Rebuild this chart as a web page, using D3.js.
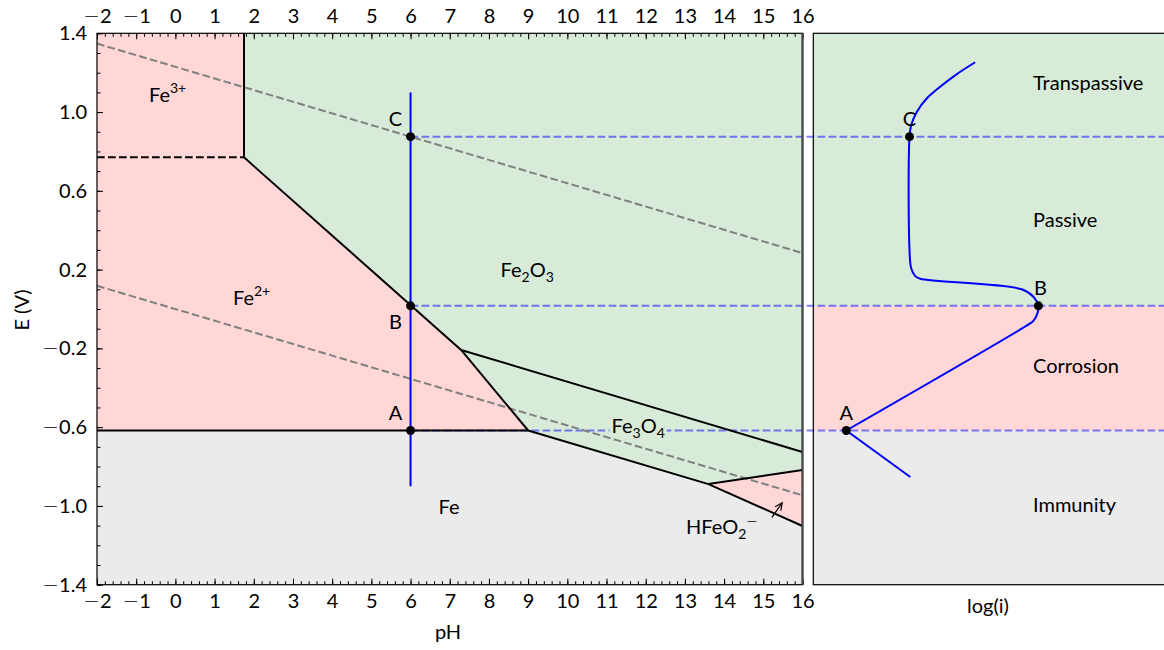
<!DOCTYPE html>
<html>
<head>
<meta charset="utf-8">
<script src="https://cdn.jsdelivr.net/npm/d3@7"></script>
<style>
  html, body { margin: 0; padding: 0; background: #fff; }
  svg text { font-family: Lato, "DejaVu Sans", sans-serif; fill: #000; }
  .minus { font-family: "DejaVu Sans", sans-serif; font-weight: 200; }
</style>
</head>
<body>
<svg id="chart" width="1164" height="650"></svg>
<script>
// ---- Data: iron Pourbaix diagram (25 °C, 1e-6 M) and polarisation curve ----
const phTicks = d3.range(-2, 17, 1);
const eTicks = [-1.4, -1.0, -0.6, -0.2, 0.2, 0.6, 1.0, 1.4];

// stability domains as [pH, E] vertices
const feRegion    = [[-2, -1.4], [-2, -0.617], [9, -0.617], [13.6, -0.889], [16, -1.102], [16, -1.4]];
const fe2Region   = [[-2, -0.617], [-2, 0.77], [1.75, 0.77], [7.29, -0.208], [9, -0.617]];
const fe3Region   = [[-2, 0.77], [-2, 1.4], [1.75, 1.4], [1.75, 0.77]];
const fe2o3Region = [[1.75, 1.4], [16, 1.4], [16, -0.726], [7.29, -0.208], [1.75, 0.77]];
const fe3o4Region = [[7.29, -0.208], [16, -0.726], [16, -0.818], [13.6, -0.889], [9, -0.617]];
const hfeo2Region = [[13.6, -0.889], [16, -0.818], [16, -1.102]];

// equilibrium boundaries
const boundaries = [
  [[1.75, 1.4], [1.75, 0.77]],
  [[1.75, 0.77], [7.29, -0.208]],
  [[7.29, -0.208], [9, -0.617]],
  [[-2, -0.617], [9, -0.617]],
  [[7.29, -0.208], [16, -0.726]],
  [[9, -0.617], [13.6, -0.889], [16, -1.102]],
  [[13.6, -0.889], [16, -0.818]]
];
const fe3fe2Boundary = [[-2, 0.77], [1.75, 0.77]];

// water stability limits
const oxygenLine   = [[-2, 1.348], [16, 0.284]];
const hydrogenLine = [[-2, 0.118], [16, -0.946]];

// scan at pH 6 and its characteristic potentials
const scanPH = 6;
const scanRange = [1.1, -0.9];
const eA = -0.617, eB = 0.016, eC = 0.875;
const scanPoints = [
  { label: "A", e: eA, dy: -11 },
  { label: "B", e: eB, dy: 23 },
  { label: "C", e: eC, dy: -11 }
];

// polarisation curve (log i in arbitrary units, E in V)
const cathodicBranch = [[2.75, -0.853], [0.935, eA]];
const anodicBranch = [
  [0.935, eA], [6.147, -0.073], [6.241, -0.060], [6.354, -0.022], [6.382, eB],
  [6.241, 0.062], [5.912, 0.100], [3.031, 0.154], [2.890, 0.167], [2.776, 0.207],
  [2.728, 0.299], [2.728, eC], [2.776, 0.934], [2.938, 1.002], [3.221, 1.070],
  [3.598, 1.129], [4.071, 1.193], [4.589, 1.253]
];
const curvePoints = [
  { label: "A", x: 0.935, e: eA, dx: 0 },
  { label: "B", x: 6.382, e: eB, dx: 2 },
  { label: "C", x: 2.728, e: eC, dx: 0 }
];
const zoneLabels = [
  { text: "Transpassive", e: 1.112 },
  { text: "Passive", e: 0.418 },
  { text: "Corrosion", e: -0.327 },
  { text: "Immunity", e: -1.03 }
];

// ---- Layout ----
const FS = 20, FS_SMALL = 14;
const svg = d3.select("#chart");
const RED = "rgb(255,215,215)", GREEN = "rgb(216,234,216)", GREY = "rgb(235,235,235)";

const x = d3.scaleLinear([-2, 16], [97, 802.5]);
const y = d3.scaleLinear([-1.4, 1.4], [584.7, 33.3]);
const xr = d3.scaleLinear([0, 10], [813.3, 1166]);

const line = d3.line().x(d => x(d[0])).y(d => y(d[1]));
const poly = pts => line(pts) + "Z";

// drawing layers, bottom to top
const gFill = svg.append("g");
const gGuide = svg.append("g");
const gLabel = svg.append("g");
const gLines = svg.append("g");
const gScan = svg.append("g");
const gAxes = svg.append("g");

// ---- Left panel: domains ----
[[feRegion, GREY], [fe2Region, RED], [fe3Region, RED], [fe2o3Region, GREEN],
 [fe3o4Region, GREEN], [hfeo2Region, RED]].forEach(([pts, c]) => {
  gFill.append("path").attr("d", poly(pts)).attr("fill", c).attr("stroke", c).attr("stroke-width", 0.5);
});

// ---- Right panel background bands ----
gFill.append("rect").attr("x", xr(0)).attr("y", y(1.4)).attr("width", xr(10) - xr(0))
  .attr("height", y(eB) - y(1.4)).attr("fill", GREEN);
gFill.append("rect").attr("x", xr(0)).attr("y", y(eB)).attr("width", xr(10) - xr(0))
  .attr("height", y(eA) - y(eB)).attr("fill", RED);
gFill.append("rect").attr("x", xr(0)).attr("y", y(eA)).attr("width", xr(10) - xr(0))
  .attr("height", y(-1.4) - y(eA)).attr("fill", GREY);

// ---- Horizontal guides linking both panels ----
[eA, eB, eC].forEach(e => {
  gGuide.append("line").attr("x1", x(scanPH)).attr("x2", xr(10)).attr("y1", y(e)).attr("y2", y(e))
    .attr("stroke", "rgb(0,0,255)").attr("stroke-opacity", 0.5).attr("stroke-width", 2)
    .attr("stroke-dasharray", "7.7,3.3");
});

// ---- Species labels ----
function chem(g, px, py, parts, anchor, box) {
  const t = g.append("text").attr("x", px).attr("y", py).attr("font-size", FS)
    .attr("text-anchor", anchor || "start");
  parts.forEach(p => {
    if (p.sub) t.append("tspan").attr("font-size", FS_SMALL).attr("dy", 5).text(p.sub);
    else if (p.sup) t.append("tspan").attr("font-size", FS_SMALL).attr("dy", p.after ? -13 : -9)
      .attr("class", p.sup === "−" ? "minus" : null).text(p.sup);
    else t.append("tspan").attr("dy", p.reset || 0).text(p.t);
  });
  if (box) {
    const b = t.node().getBBox();
    g.insert("rect", () => t.node()).attr("x", b.x - 2).attr("y", b.y)
      .attr("width", b.width + 4).attr("height", b.height).attr("fill", box);
  }
  return t;
}
chem(gLabel, 149, 101.5, [{ t: "Fe" }, { sup: "3+" }]);
chem(gLabel, 233, 305, [{ t: "Fe" }, { sup: "2+" }]);
chem(gLabel, 500.5, 276.5, [{ t: "Fe" }, { sub: "2" }, { t: "O", reset: -5 }, { sub: "3" }]);
chem(gLabel, 611.5, 432.5, [{ t: "Fe" }, { sub: "3" }, { t: "O", reset: -5 }, { sub: "4" }], "start", GREEN);
chem(gLabel, 449, 514, [{ t: "Fe" }], "middle");
chem(gLabel, 686, 534, [{ t: "HFeO" }, { sub: "2" }, { sup: "−", after: true }]);

// ---- Water limits and boundaries ----
[oxygenLine, hydrogenLine].forEach(l => {
  gLines.append("path").attr("d", line(l)).attr("fill", "none").attr("stroke", "#808080")
    .attr("stroke-width", 2).attr("stroke-dasharray", "7.7,3.3");
});
gLines.append("path").attr("d", line(fe3fe2Boundary)).attr("fill", "none").attr("stroke", "#000")
  .attr("stroke-width", 2).attr("stroke-dasharray", "7.7,3.3");
boundaries.forEach(b => {
  gLines.append("path").attr("d", line(b)).attr("fill", "none").attr("stroke", "#000")
    .attr("stroke-width", 2).attr("stroke-linejoin", "miter");
});

// arrow pointing into the HFeO2- domain
const arrowFrom = [15.22, -1.058], arrowTo = [15.48, -0.984];
{
  const x0 = x(arrowFrom[0]), y0 = y(arrowFrom[1]), x1 = x(arrowTo[0]), y1 = y(arrowTo[1]);
  const ang = Math.atan2(y1 - y0, x1 - x0), L = 8, spread = 0.45;
  gLines.append("line").attr("x1", x0).attr("y1", y0).attr("x2", x1).attr("y2", y1)
    .attr("stroke", "#000").attr("stroke-width", 1.2);
  gLines.append("path").attr("d", `M${x1 - L * Math.cos(ang - spread)},${y1 - L * Math.sin(ang - spread)}L${x1},${y1}L${x1 - L * Math.cos(ang + spread)},${y1 - L * Math.sin(ang + spread)}`)
    .attr("fill", "none").attr("stroke", "#000").attr("stroke-width", 1.2);
}

// ---- Potential scan at pH 6 ----
gScan.append("line").attr("x1", x(scanPH)).attr("x2", x(scanPH))
  .attr("y1", y(scanRange[0])).attr("y2", y(scanRange[1]))
  .attr("stroke", "#0000ff").attr("stroke-width", 2);
scanPoints.forEach(p => {
  gScan.append("circle").attr("cx", x(scanPH)).attr("cy", y(p.e)).attr("r", 4.5).attr("fill", "#000");
  gScan.append("text").attr("x", x(scanPH) - 15).attr("y", y(p.e) + p.dy).attr("font-size", FS)
    .attr("text-anchor", "middle").text(p.label);
});

// ---- Polarisation curve ----
const rline = d3.line().x(d => xr(d[0])).y(d => y(d[1])).curve(d3.curveCatmullRom.alpha(0.5));
[cathodicBranch, anodicBranch].forEach(b => {
  gScan.append("path").attr("d", rline(b)).attr("fill", "none").attr("stroke", "#0000ff")
    .attr("stroke-width", 2);
});
curvePoints.forEach(p => {
  gScan.append("circle").attr("cx", xr(p.x)).attr("cy", y(p.e)).attr("r", 4.5).attr("fill", "#000");
  gScan.append("text").attr("x", xr(p.x) + p.dx).attr("y", y(p.e) - 11)
    .attr("font-size", FS).attr("text-anchor", "middle").text(p.label);
});
zoneLabels.forEach(z => {
  gLabel.append("text").attr("x", 1033).attr("y", y(z.e)).attr("font-size", FS).text(z.text);
});

// ---- Axes (inward ticks, minor ticks) ----
const fmtX = d3.format("d"), fmtY = d3.format(".1f");
const minorX = d3.range(-2, 16.001, 0.2).map(v => +v.toFixed(1));
const minorY = d3.range(-1.4, 1.4001, 0.1).map(v => +v.toFixed(1));

function styleAxis(g) {
  g.selectAll(".domain").remove();
  g.selectAll("line").attr("stroke", "#000").attr("stroke-width", 1);
  g.selectAll("text").attr("font-size", FS).attr("font-family", "Lato, 'DejaVu Sans', sans-serif")
    .each(function () {
      const s = this.textContent;
      if (s.startsWith("−")) {
        const t = d3.select(this).text(null);
        t.append("tspan").attr("class", "minus").text("−");
        t.append("tspan").text(s.slice(1));
      }
    });
}
gAxes.append("g").attr("transform", `translate(0,${y(-1.4)})`)
  .call(d3.axisBottom(x).tickValues(minorX).tickSize(-3.5).tickFormat("")).call(styleAxis);
gAxes.append("g").attr("transform", `translate(0,${y(-1.4)})`)
  .call(d3.axisBottom(x).tickValues(phTicks).tickSize(-6).tickPadding(9).tickFormat(fmtX)).call(styleAxis);

gAxes.append("g").attr("transform", `translate(0,${y(1.4)})`)
  .call(d3.axisTop(x).tickValues(minorX).tickSize(-3.5).tickFormat("")).call(styleAxis);
gAxes.append("g").attr("transform", `translate(0,${y(1.4)})`)
  .call(d3.axisTop(x).tickValues(phTicks).tickSize(-6).tickPadding(10).tickFormat(fmtX)).call(styleAxis);

gAxes.append("g").attr("transform", `translate(${x(-2)},0)`)
  .call(d3.axisLeft(y).tickValues(minorY).tickSize(-3.5).tickFormat("")).call(styleAxis);
gAxes.append("g").attr("transform", `translate(${x(-2)},0)`)
  .call(d3.axisLeft(y).tickValues(eTicks).tickSize(-6).tickPadding(10).tickFormat(fmtY)).call(styleAxis);

// frames
gAxes.append("rect").attr("x", x(-2)).attr("y", y(1.4)).attr("width", x(16) - x(-2))
  .attr("height", y(-1.4) - y(1.4)).attr("fill", "none").attr("stroke", "#000").attr("stroke-width", 1.2);
gAxes.append("line").attr("x1", x(16)).attr("x2", x(16)).attr("y1", y(1.4)).attr("y2", y(-1.4))
  .attr("stroke", "#444").attr("stroke-width", 2.2);
gAxes.append("rect").attr("x", xr(0)).attr("y", y(1.4)).attr("width", xr(10) - xr(0))
  .attr("height", y(-1.4) - y(1.4)).attr("fill", "none").attr("stroke", "#000").attr("stroke-width", 1.2);

// axis titles
gAxes.append("text").attr("x", 448).attr("y", 639).attr("font-size", FS).attr("text-anchor", "middle").text("pH");
gAxes.append("text").attr("transform", "translate(29,310) rotate(-90)").attr("font-size", FS)
  .attr("text-anchor", "middle").text("E (V)");
gAxes.append("text").attr("x", 988).attr("y", 613).attr("font-size", FS).attr("text-anchor", "middle").text("log(i)");
</script>
</body>
</html>
